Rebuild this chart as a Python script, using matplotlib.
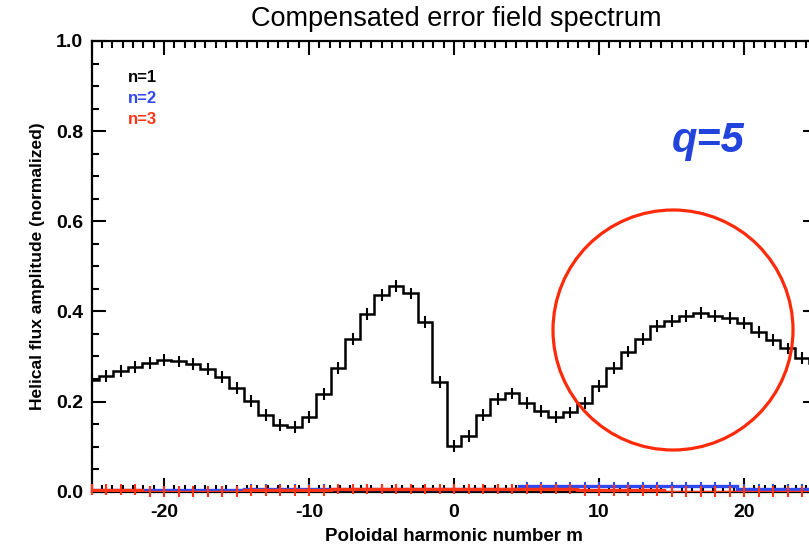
import numpy as np
import matplotlib
matplotlib.use("Agg")
import matplotlib.pyplot as plt
from matplotlib.patches import Ellipse
from matplotlib.ticker import MultipleLocator, FixedLocator, FormatStrFormatter

plt.rcParams['font.family'] = ['Liberation Sans', 'DejaVu Sans']
plt.rcParams['axes.unicode_minus'] = False

# -------------------------------
# Data
# -------------------------------
m = list(range(-25, 26))

n1 = [0.248, 0.257, 0.268, 0.277, 0.285, 0.292, 0.289, 0.283, 0.272, 0.254,
      0.230, 0.202, 0.170, 0.148, 0.143, 0.166, 0.216, 0.275, 0.339, 0.394,
      0.436, 0.457, 0.440, 0.376, 0.244, 0.101, 0.124, 0.170, 0.206, 0.218,
      0.197, 0.179, 0.165, 0.176, 0.197, 0.234, 0.274, 0.311, 0.339, 0.368,
      0.379, 0.390, 0.396, 0.390, 0.385, 0.374, 0.355, 0.337, 0.318, 0.296,
      0.285]

n2 = ([0.003] * 4 + [0.003] * 7 + [0.007] * 6 + [0.005] * 13 +
      [0.012] * 15 + [0.007] * 6)
n3 = ([0.004] * 4 + [0.0] * 7 + [0.003] * 6 + [0.006] * 17 +
      [0.003] * 6 + [0.0] * 11)

n1_err = [0.013] * len(m)
n2_err = [0.010] * len(m)
n3_err = [0.012] * len(m)

series = [("n=1", n1, n1_err, "black"),
          ("n=2", n2, n2_err, "#3048f0"),
          ("n=3", n3, n3_err, "#ff3515")]

# -------------------------------
# Figure
# -------------------------------
W, H = 809, 544
fig = plt.figure(figsize=(W / 100, H / 100), dpi=100)
ax = fig.add_axes([91.5 / W, 52.3 / H, (816.5 - 91.5) / W, (491.7 - 41) / H])

edges = np.arange(-25.5, 26.0, 1.0)
for label, vals, err, col in series:
    lw = 1.8 if col == "black" else 2.4
    ax.stairs(vals, edges, baseline=None, color=col, lw=lw, zorder=3)
    eb = ax.errorbar(m, vals, yerr=err, fmt='none', ecolor=col, elinewidth=1.5,
                     capsize=0, zorder=3)
    for c in eb.lines[2]:
        c.set_clip_on(False)

ax.set_xlim(-25, 25)
ax.set_ylim(0, 1.0)

ax.xaxis.set_major_locator(FixedLocator([-20, -10, 0, 10, 20]))
ax.xaxis.set_minor_locator(MultipleLocator(10 / 14))
ax.yaxis.set_major_locator(MultipleLocator(0.2))
ax.yaxis.set_minor_locator(MultipleLocator(0.05))
ax.yaxis.set_major_formatter(FormatStrFormatter('%.1f'))

ax.tick_params(which='both', direction='in', top=True, right=True, width=1.5)
ax.tick_params(which='major', length=10, labelsize=14)
ax.tick_params(which='minor', length=5)
ax.tick_params(axis='x', which='major', pad=9)
ax.tick_params(axis='y', which='major', pad=6)
for lab in ax.get_xticklabels() + ax.get_yticklabels():
    lab.set_fontweight('bold')
for sp in ax.spines.values():
    sp.set_linewidth(1.6)

ax.set_xlabel("Poloidal harmonic number m", fontsize=13.5, fontweight='bold', labelpad=5)
ax.set_ylabel("Helical flux amplitude (normalized)", fontsize=12.5, fontweight='bold', labelpad=8)
fig.text(456 / W, 1 - 19 / H, "Compensated error field spectrum",
         fontsize=19.5, ha='center', va='center')

# legend text
for i, (label, vals, err, col) in enumerate(series):
    fig.text(128 / W, 1 - (77 + 21.5 * i) / H, label, color=col,
             fontsize=12, fontweight='bold', va='center', ha='left')

# annotation
fig.text(708 / W, 1 - 141 / H, "q=5", color="#2244dd", fontsize=30,
         fontweight='bold', fontstyle='italic', ha='center', va='center')
circ = Ellipse(((673 - 454) / 14.5, (491.7 - 330) / 450.7),
               width=240 / 14.5, height=240 / 450.7,
               fill=False, edgecolor="#ff2a0a", lw=2.3, zorder=4)
ax.add_patch(circ)

fig.savefig("out.png", dpi=100)
